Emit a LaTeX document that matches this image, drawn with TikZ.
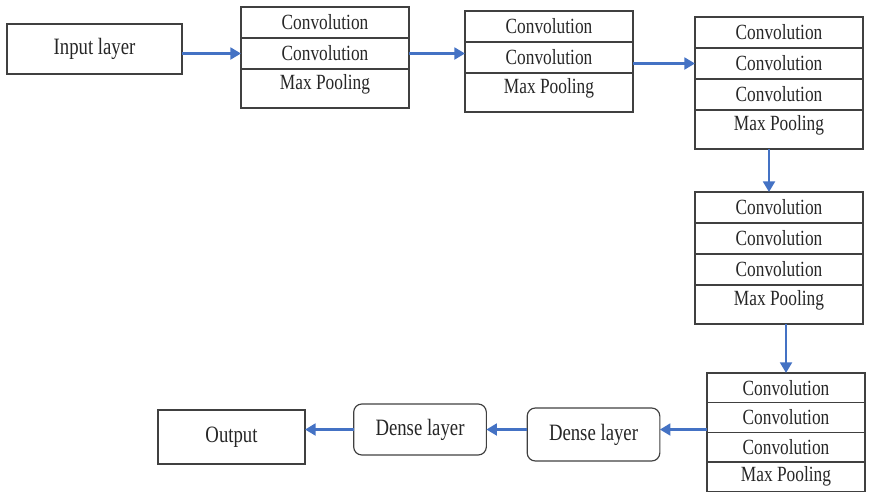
\documentclass[tikz,border=0pt]{standalone}
\usepackage{fontspec}
\setmainfont{Liberation Serif}
\usepackage{graphicx}
\usetikzlibrary{positioning,arrows.meta}
\definecolor{flowblue}{HTML}{4472C4}
\newcommand{\narrow}[1]{\scalebox{0.8}[1]{#1}}

\begin{document}
\begin{tikzpicture}[x=0.03cm,y=-0.03cm,
  layer/.style={draw=black!75, line width=1pt, text=black!85, outer sep=0pt, inner sep=2pt, font=\fontsize{18.5}{20}\selectfont},
  conv/.style={layer, minimum width=5.04cm, minimum height=0.93cm},
  pool/.style={conv, minimum height=1.17cm, text depth=11pt},
  lastconv/.style={layer, minimum width=4.74cm, minimum height=0.89cm},
  endbox/.style={layer, font=\fontsize{20}{22}\selectfont},
  dense/.style={endbox, rounded corners=7pt, minimum width=3.98cm},
  flow/.style={draw=flowblue, line width=2.2pt, -{Triangle[length=9pt,width=10pt]}}]
\useasboundingbox (0,0) rectangle (870,493);

% input and first block
\node[endbox, minimum width=5.25cm, minimum height=1.5cm] (in) at (94.5,49) {\narrow{Input layer}};
\node[conv] (b1c1) at (325,22.5) {\narrow{Convolution}};
\node[conv, below=0pt of b1c1] (b1c2) {\narrow{Convolution}};
\node[pool, below=0pt of b1c2] (b1p) {\narrow{Max Pooling}};

% second block
\node[conv] (b2c1) at (549,26.5) {\narrow{Convolution}};
\node[conv, below=0pt of b2c1] (b2c2) {\narrow{Convolution}};
\node[pool, below=0pt of b2c2] (b2p) {\narrow{Max Pooling}};

% third block
\node[conv] (b3c1) at (779,32.5) {\narrow{Convolution}};
\node[conv, below=0pt of b3c1] (b3c2) {\narrow{Convolution}};
\node[conv, below=0pt of b3c2] (b3c3) {\narrow{Convolution}};
\node[pool, below=0pt of b3c3] (b3p) {\narrow{Max Pooling}};

% fourth block
\node[conv] (b4c1) at (779,207.5) {\narrow{Convolution}};
\node[conv, below=0pt of b4c1] (b4c2) {\narrow{Convolution}};
\node[conv, below=0pt of b4c2] (b4c3) {\narrow{Convolution}};
\node[pool, below=0pt of b4c3] (b4p) {\narrow{Max Pooling}};

% fifth block
\node[lastconv] (b5c1) at (786,387.8) {\narrow{Convolution}};
\node[lastconv, below=0pt of b5c1] (b5c2) {\narrow{Convolution}};
\node[lastconv, below=0pt of b5c2] (b5c3) {\narrow{Convolution}};
\node[lastconv, below=0pt of b5c3] (b5p) {\narrow{Max Pooling}};

% dense layers and output
\node[dense, minimum height=1.59cm] (dr) at (593.5,434.5) {\narrow{Dense layer}};
\node[dense, minimum height=1.53cm] (dl) at (420,429.5) {\narrow{Dense layer}};
\node[endbox, minimum width=4.41cm, minimum height=1.62cm] (out) at (231.5,437) {\narrow{Output}};

% connections
\draw[flow] (in.east |- b1c2.west) -- (b1c2.west);
\draw[flow] (b1c2.east) -- (b1c2.east -| b2c2.west);
\draw[flow] (b2c2.east |- b3c2.west) -- (b3c2.west);
\draw[flow] ([xshift=-0.3cm]b3p.south) -- ([xshift=-0.3cm]b4c1.north);
\draw[flow] (b4p.south -| b5c1.north) -- (b5c1.north);
\draw[flow] (b5c2.west |- dl.east) -- (dr.east |- dl.east);
\draw[flow] (dr.west |- dl.east) -- (dl.east);
\draw[flow] (dl.west) -- (dl.west -| out.east);
\end{tikzpicture}
\end{document}
